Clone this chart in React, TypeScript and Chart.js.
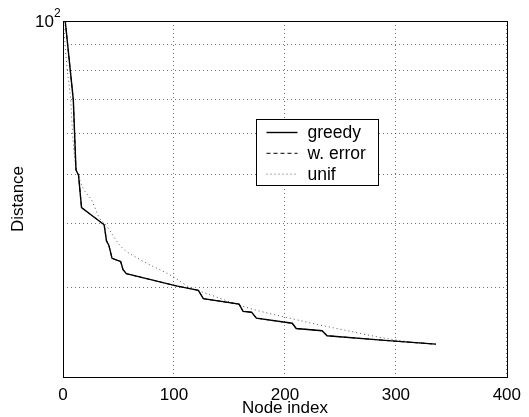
import React, { useEffect, useRef } from 'react';
import { Chart, registerables } from 'chart.js';
Chart.register(...registerables);

const greedyX = [2, 9.3, 11.7, 14, 16.7, 37.1, 39.2, 41.3, 44.2, 52, 54.1, 57.1, 102, 122, 126.5, 158.7, 162.3, 170, 174.3, 206.6, 210.2, 233.5, 238, 290, 336];
const greedyY = [100, 70, 51, 49.8, 43, 39.8, 37, 36.3, 34.2, 33.7, 32.5, 31.9, 30.2, 29.6, 28.5, 27.8, 26.9, 26.8, 26.1, 25.5, 24.9, 24.65, 24.1, 23.6, 23.2];
const werrX = [2, 9.3, 11.7, 14, 16.7, 37.1, 39.2, 41.3, 44.2, 52, 54.1, 57.1, 102, 122, 126.5, 158.7, 162.3, 170, 174.3, 206.6, 210.2, 233.5, 238, 290, 336];
const werrY = [100, 70, 51, 49.8, 43, 39.8, 37, 36.3, 34.2, 33.7, 32.5, 31.9, 30.2, 29.6, 28.5, 27.8, 26.9, 26.8, 26.1, 25.5, 24.9, 24.65, 24.1, 23.6, 23.2];
const unifX = [0.5, 1.8, 3.9, 6.9, 8.7, 10.8, 13.8, 18, 25.7, 33, 37.7, 52.6, 67.5, 99, 114, 128.9, 167.7, 200.6, 254.4, 302, 336];
const unifY = [100, 90, 80, 70, 60, 53.3, 49.8, 47, 44.5, 41, 40, 36, 34.2, 31.5, 30, 29.2, 27.3, 26.2, 24.7, 23.6, 23.2];

const xTicks = [0, 100, 200, 300, 400];
const yTicks = [20, 30, 40, 50, 60, 70, 80, 90, 100];
const labels = ['greedy', 'w. error', 'unif'];
const yTopLabelBase = '10';
const yTopLabelExp = '2';

const FONT = "'Liberation Sans', Arial, Helvetica, sans-serif";

const pts = (xs: number[], ys: number[]) => xs.map((x, i) => ({ x, y: ys[i] }));

const framePlugin = {
  id: 'frame',
  afterDraw(chart: any) {
    const { ctx, chartArea: ca } = chart;
    ctx.save();
    ctx.strokeStyle = '#000';
    ctx.lineWidth = 1;
    ctx.setLineDash([]);
    ctx.strokeRect(Math.round(ca.left) + 0.5, Math.round(ca.top) + 0.5, Math.round(ca.right - ca.left), Math.round(ca.bottom - ca.top));
    // top y tick label 10^2
    const yScale = chart.scales.y;
    const yp = yScale.getPixelForValue(100);
    ctx.fillStyle = '#000';
    ctx.textBaseline = 'middle';
    ctx.textAlign = 'right';
    ctx.font = `17px ${FONT}`;
    ctx.fillText(yTopLabelBase, ca.left - 9, yp + 1);
    ctx.textAlign = 'left';
    ctx.font = `12px ${FONT}`;
    ctx.fillText(yTopLabelExp, ca.left - 9, yp - 7);
    // legend
    const bx = Math.round(ca.left + 193) + 0.5;
    const by = Math.round(ca.top + 98) + 0.5;
    const bw = 122, bh = 66;
    ctx.fillStyle = '#fff';
    ctx.fillRect(bx, by, bw, bh);
    ctx.strokeStyle = '#000';
    ctx.strokeRect(bx, by, bw, bh);
    ctx.font = `17.5px ${FONT}`;
    ctx.textBaseline = 'middle';
    ctx.textAlign = 'left';
    chart.data.datasets.forEach((ds: any, i: number) => {
      const y = by + 13 + i * 20.8;
      ctx.beginPath();
      ctx.strokeStyle = ds.borderColor;
      ctx.lineWidth = ds.borderWidth;
      ctx.setLineDash(ds.borderDash || []);
      ctx.moveTo(bx + 10, y);
      ctx.lineTo(bx + 41, y);
      ctx.stroke();
      ctx.setLineDash([]);
      ctx.fillStyle = '#000';
      ctx.fillText(ds.label, bx + 51, y + 1);
    });
    ctx.restore();
  },
};

export default function App() {
  const ref = useRef<HTMLCanvasElement>(null);
  useEffect(() => {
    document.body.style.margin = '0';
    const chart = new Chart(ref.current!, {
      type: 'line',
      data: {
        datasets: [
          { label: labels[0], data: pts(greedyX, greedyY), borderColor: '#000', borderWidth: 1.4, pointRadius: 0, tension: 0, order: 0 },
          { label: labels[1], data: pts(werrX, werrY), borderColor: '#000', borderWidth: 1, borderDash: [4, 3], pointRadius: 0, tension: 0, order: 1 },
          { label: labels[2], data: pts(unifX, unifY), borderColor: '#555', borderWidth: 1, borderDash: [1, 3], pointRadius: 0, cubicInterpolationMode: 'monotone', order: 2 },
        ] as any,
      },
      options: {
        animation: false,
        responsive: false,
        maintainAspectRatio: false,
        layout: { padding: { left: 0, top: 21, right: 20, bottom: 0 } },
        plugins: { legend: { display: false }, tooltip: { enabled: false } },
        scales: {
          x: {
            type: 'linear',
            min: 0,
            max: 400,
            afterBuildTicks: (s: any) => { s.ticks = xTicks.map((v) => ({ value: v })); },
            afterFit: (s: any) => { s.height = 40; },
            ticks: { font: { family: FONT, size: 17 }, color: '#000', padding: 8, maxRotation: 0 },
            grid: { color: 'rgba(0,0,0,0.55)', drawTicks: false, lineWidth: 1 },
            border: { display: false, dash: [1, 3] },
            title: { display: true, text: 'Node index', font: { family: FONT, size: 17 }, color: '#000', padding: { top: 0, bottom: -2 } },
          },
          y: {
            type: 'logarithmic',
            min: 20,
            max: 100,
            afterBuildTicks: (s: any) => { s.ticks = yTicks.map((v) => ({ value: v })); },
            afterFit: (s: any) => { s.width = 63; },
            ticks: { font: { family: FONT, size: 17 }, color: '#000', padding: 4, callback: () => '' },
            grid: { color: 'rgba(0,0,0,0.55)', drawTicks: false, lineWidth: 1 },
            border: { display: false, dash: [1, 3] },
            title: { display: true, text: 'Distance', font: { family: FONT, size: 17 }, color: '#000', padding: { top: 8, bottom: 0 } },
          },
        },
      } as any,
      plugins: [framePlugin],
    });
    return () => chart.destroy();
  }, []);
  return (
    <div style={{ width: 529, height: 417 }}>
      <canvas ref={ref} width={529} height={417} style={{ width: 529, height: 417 }} />
    </div>
  );
}
